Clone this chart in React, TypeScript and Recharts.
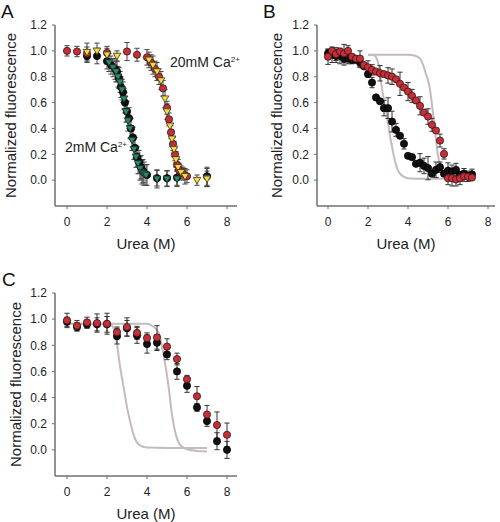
import React from 'react';
import {
  ComposedChart,
  Scatter,
  Line,
  XAxis,
  YAxis,
  ErrorBar,
} from 'recharts';

// ---- Panel A: 20 mM Ca2+ (red circles, yellow triangles), 2 mM Ca2+ (black circles, green triangles)
const aRedX = [0, 0.5, 1.0, 2.0, 3.0, 3.5, 4.0, 4.2, 4.4, 4.6, 4.8, 5.0, 5.1, 5.2, 5.3, 5.4, 5.5, 5.6, 5.8, 6.0];
const aRedY = [1.0, 0.995, 0.98, 0.985, 0.995, 0.97, 0.95, 0.91, 0.86, 0.8, 0.71, 0.56, 0.47, 0.37, 0.28, 0.2, 0.12, 0.08, 0.05, 0.03];
const aRedE = [0.04, 0.04, 0.05, 0.05, 0.07, 0.05, 0.06, 0.06, 0.06, 0.06, 0.06, 0.05, 0.05, 0.05, 0.05, 0.05, 0.05, 0.05, 0.05, 0.05];

const aYelX = [1.0, 1.5, 2.0, 2.5, 4.1, 4.3, 4.5, 4.7, 4.9, 5.0, 5.15, 5.25, 5.35, 5.45, 5.55, 5.7, 5.9, 6.5, 7.0];
const aYelY = [0.99, 1.0, 0.97, 0.96, 0.93, 0.89, 0.84, 0.77, 0.63, 0.53, 0.42, 0.32, 0.24, 0.16, 0.1, 0.06, 0.03, 0.0, 0.01];
const aYelE = [0.07, 0.06, 0.05, 0.04, 0.06, 0.07, 0.07, 0.07, 0.07, 0.06, 0.06, 0.06, 0.06, 0.06, 0.06, 0.05, 0.06, 0.04, 0.06];

const aBlkX = [1.0, 1.5, 2.0, 2.2, 2.4, 2.5, 2.6, 2.7, 2.8, 2.9, 3.0, 3.1, 3.2, 3.3, 3.4, 3.5, 3.6, 3.7, 3.8, 4.0, 4.5, 5.0, 5.5, 7.0];
const aBlkY = [0.96, 0.96, 0.92, 0.89, 0.86, 0.84, 0.79, 0.72, 0.68, 0.6, 0.53, 0.48, 0.4, 0.33, 0.25, 0.18, 0.14, 0.1, 0.07, 0.04, 0.015, 0.015, 0.02, 0.03];
const aBlkE = [0.05, 0.06, 0.06, 0.07, 0.08, 0.08, 0.08, 0.08, 0.08, 0.08, 0.08, 0.08, 0.08, 0.08, 0.08, 0.08, 0.09, 0.09, 0.09, 0.08, 0.06, 0.06, 0.06, 0.07];

const aGrnX = [2.1, 2.3, 2.45, 2.55, 2.65, 2.75, 2.85, 2.95, 3.05, 3.15, 3.25, 3.35, 3.45, 3.55, 3.65, 3.75, 3.85, 3.95, 4.5, 5.0, 5.5, 7.0];
const aGrnY = [0.91, 0.87, 0.84, 0.8, 0.76, 0.7, 0.63, 0.53, 0.46, 0.4, 0.31, 0.24, 0.18, 0.13, 0.09, 0.06, 0.05, 0.04, 0.01, 0.01, 0.01, 0.02];
const aGrnE = [0.07, 0.07, 0.08, 0.08, 0.08, 0.08, 0.08, 0.08, 0.08, 0.08, 0.08, 0.08, 0.08, 0.08, 0.09, 0.09, 0.09, 0.08, 0.07, 0.06, 0.06, 0.07];

// ---- Panel B: 0.2 M steps
const bX = [0, 0.2, 0.4, 0.6, 0.8, 1.0, 1.2, 1.4, 1.6, 1.8, 2.0, 2.2, 2.4, 2.6, 2.8, 3.0, 3.2, 3.4, 3.6, 3.8, 4.0, 4.2, 4.4, 4.6, 4.8, 5.0, 5.2, 5.4, 5.6, 5.8, 6.0, 6.2, 6.4, 6.6, 6.8, 7.0, 7.2];
const bBlkY = [0.98, 0.97, 0.96, 0.96, 0.94, 0.94, 0.93, 0.93, 0.91, 0.88, 0.82, 0.755, 0.64, 0.61, 0.557, 0.557, 0.453, 0.389, 0.343, 0.281, 0.188, 0.178, 0.126, 0.135, 0.11, 0.093, 0.05, 0.08, 0.1, 0.05, 0.074, 0.067, 0.08, 0.04, 0.05, 0.03, 0.045];
const bBlkE = [0.03, 0.06, 0.05, 0.06, 0.05, 0.04, 0.03, null, 0.04, null, 0.02, 0.04, null, null, 0.06, 0.08, 0.08, 0.05, null, 0.04, null, null, null, 0.07, 0.06, 0.09, null, 0.06, 0.04, null, 0.06, 0.05, 0.05, null, 0.04, 0.04, 0.04];
const bRedY = [0.955, 1.0, 0.975, 0.995, 0.98, 1.0, 0.955, 0.94, 0.94, 0.89, 0.873, 0.853, 0.84, 0.827, 0.82, 0.81, 0.8, 0.78, 0.745, 0.716, 0.685, 0.652, 0.616, 0.575, 0.523, 0.492, 0.428, 0.384, 0.306, 0.203, 0.015, 0.015, 0.005, 0.015, 0.03, 0.025, 0.02];
const bRedE = [0.06, null, 0.05, null, 0.07, 0.04, null, null, 0.06, null, 0.05, 0.04, null, 0.06, null, 0.06, 0.06, null, 0.09, null, 0.07, 0.05, null, 0.07, null, 0.06, 0.05, null, 0.05, 0.04, 0.05, 0.06, 0.05, 0.05, 0.04, null, null];

// fitted curves (grey)
const bFit1X = [2.0, 2.3, 2.4, 2.5, 2.6, 2.7, 2.8, 2.9, 3.0, 3.1, 3.2, 3.3, 3.4, 3.5, 3.6, 3.8, 4.1, 5.0, 7.0];
const bFit1Y = [0.97, 0.965, 0.95, 0.91, 0.83, 0.71, 0.62, 0.53, 0.44, 0.34, 0.26, 0.18, 0.12, 0.075, 0.05, 0.025, 0.013, 0.01, 0.01];
const bFit2X = [2.0, 4.0, 4.4, 4.6, 4.76, 4.9, 5.0, 5.1, 5.17, 5.29, 5.42, 5.5, 5.59, 5.7, 5.84, 6.0, 6.25, 7.0];
const bFit2Y = [0.97, 0.97, 0.96, 0.94, 0.89, 0.82, 0.775, 0.7, 0.62, 0.466, 0.286, 0.19, 0.13, 0.075, 0.04, 0.025, 0.018, 0.012];

// ---- Panel C: 0.5 M steps
const cX = [0, 0.5, 1.0, 1.5, 2.0, 2.5, 3.0, 3.5, 4.0, 4.5, 5.0, 5.5, 6.0, 6.5, 7.0, 7.5, 8.0];
const cRedY = [0.99, 0.95, 0.975, 0.97, 0.965, 0.9, 0.94, 0.895, 0.855, 0.86, 0.79, 0.695, 0.54, 0.41, 0.27, 0.19, 0.115];
const cRedE = [0.055, 0.04, 0.04, 0.07, 0.08, 0.04, 0.07, 0.05, 0.04, 0.09, 0.06, 0.045, 0.03, 0.075, 0.07, 0.1, 0.09];
const cBlkY = [0.98, 0.94, 0.96, 0.96, 0.96, 0.87, 0.93, 0.875, 0.81, 0.82, 0.73, 0.6, 0.49, 0.325, 0.22, 0.066, 0.0];
const cBlkE = [0.035, 0.03, 0.03, 0.05, 0.06, 0.06, 0.06, 0.06, 0.07, 0.06, 0.04, 0.06, 0.05, 0.03, 0.04, 0.065, 0.065];

const cFit1X = [0, 2.0, 2.2, 2.3, 2.4, 2.49, 2.57, 2.65, 2.82, 2.99, 3.15, 3.3, 3.48, 3.7, 4.0, 5.0, 7.0];
const cFit1Y = [0.965, 0.965, 0.955, 0.94, 0.9, 0.82, 0.73, 0.64, 0.49, 0.335, 0.22, 0.13, 0.06, 0.03, 0.018, 0.015, 0.015];
const cFit2X = [0, 4.0, 4.2, 4.39, 4.64, 4.81, 4.98, 5.14, 5.22, 5.35, 5.46, 5.6, 5.8, 6.0, 6.5, 7.0];
const cFit2Y = [0.965, 0.965, 0.955, 0.933, 0.87, 0.74, 0.59, 0.41, 0.3, 0.18, 0.107, 0.05, 0.02, 0.005, -0.008, -0.012];

const yTicks = [0, 0.2, 0.4, 0.6, 0.8, 1.0, 1.2];
const xTicks = [0, 2, 4, 6, 8];

const FONT = '"Liberation Sans", Arial, sans-serif';
const AXIS = '#6f6f6f';
const FIT = '#c6bbbb';

const rows = (xs: number[], ys: number[], es?: (number | null)[]) =>
  xs.map((x, i) => ({ x, y: ys[i], e: es ? es[i] : null }));

const dot = (fill: string, stroke: string) => (p: any) =>
  <circle cx={p.cx} cy={p.cy} r={3.6} fill={fill} stroke={stroke} strokeWidth={0.8} />;

const tri = (fill: string, stroke: string) => (p: any) => (
  <path
    d={`M${p.cx - 3.8},${p.cy - 2.8}L${p.cx + 3.8},${p.cy - 2.8}L${p.cx},${p.cy + 3.8}Z`}
    fill={fill}
    stroke={stroke}
    strokeWidth={0.8}
  />
);

interface PanelProps {
  width: number;
  height: number;
  top: number;
  right: number;
  yWidth: number;
  xHeight: number;
  xDomain: [number, number];
  labelOffset: number;
  yLabelOffset: number;
  children: React.ReactNode;
}

const Panel = ({ width, height, top, right, yWidth, xHeight, xDomain, labelOffset, yLabelOffset, children }: PanelProps) => (
  <ComposedChart width={width} height={height} margin={{ top, right, left: 0, bottom: 0 }}>
    <XAxis
      type="number"
      dataKey="x"
      domain={xDomain}
      allowDataOverflow
      ticks={xTicks}
      height={xHeight}
      tickSize={3}
      tickMargin={8}
      axisLine={{ stroke: AXIS, strokeWidth: 1.5 }}
      tickLine={{ stroke: AXIS }}
      tick={{ fill: '#222', fontSize: 12, fontFamily: FONT }}
      label={{ value: 'Urea (M)', position: 'insideBottom', offset: labelOffset, fill: '#222', fontSize: 15, fontFamily: FONT }}
    />
    <XAxis xAxisId="top" orientation="top" type="number" domain={xDomain} allowDataOverflow height={0}
      tick={false} tickLine={false} axisLine={{ stroke: AXIS, strokeWidth: 1.5 }} />
    <YAxis
      type="number"
      dataKey="y"
      domain={[-0.2, 1.2]}
      allowDataOverflow
      ticks={yTicks}
      tickFormatter={(v: number) => v.toFixed(1)}
      width={yWidth}
      tickSize={3}
      tickMargin={5}
      axisLine={{ stroke: AXIS, strokeWidth: 1.5 }}
      tickLine={{ stroke: AXIS }}
      tick={{ fill: '#222', fontSize: 12, fontFamily: FONT }}
      label={{
        value: 'Normalized fluorescence',
        angle: -90,
        position: 'insideLeft',
        offset: yLabelOffset,
        fill: '#222',
        fontSize: 15,
        fontFamily: FONT,
        style: { textAnchor: 'middle' },
      }}
    />
    <YAxis yAxisId="right" orientation="right" type="number" domain={[-0.2, 1.2]} allowDataOverflow width={0}
      tick={false} tickLine={false} axisLine={{ stroke: AXIS, strokeWidth: 1.5 }} />
    {children}
  </ComposedChart>
);

const bar = (color = '#333') => <ErrorBar dataKey="e" direction="y" width={2.6} stroke={color} strokeWidth={1} />;

const fitLine = (xs: number[], ys: number[]) => (
  <Line data={rows(xs, ys)} dataKey="y" type="monotone" stroke={FIT} strokeWidth={2} dot={false}
    activeDot={false} isAnimationActive={false} />
);

const letter = (t: string, left: number, top: number) => (
  <div style={{ position: 'absolute', left, top, fontSize: 19, fontFamily: FONT, lineHeight: '19px', color: '#111' }}>{t}</div>
);

export default function App() {
  return (
    <div style={{ position: 'absolute', left: 0, top: 0, width: 500, height: 522, background: '#fff' }}>
      <div style={{ position: 'absolute', left: 0, top: 0 }}>
        <Panel width={245} height={262} top={25} right={8} yWidth={55} xHeight={56} xDomain={[-0.6, 8.5]}
          labelOffset={13} yLabelOffset={11}>
          <Scatter data={rows(aBlkX, aBlkY, aBlkE)} shape={dot('#111', '#000')} isAnimationActive={false}>{bar('#444')}</Scatter>
          <Scatter data={rows(aGrnX, aGrnY, aGrnE)} shape={tri('#2e8a5c', '#123')} isAnimationActive={false}>{bar('#444')}</Scatter>
          <Scatter data={rows(aRedX, aRedY, aRedE)} shape={dot('#c4303a', '#3a1212')} isAnimationActive={false}>{bar('#444')}</Scatter>
          <Scatter data={rows(aYelX, aYelY, aYelE)} shape={tri('#f0dc4a', '#3a3010')} isAnimationActive={false}>{bar('#444')}</Scatter>
        </Panel>
      </div>
      <div style={{ position: 'absolute', left: 250, top: 0 }}>
        <Panel width={250} height={262} top={25} right={5} yWidth={67} xHeight={56} xDomain={[-0.55, 8.35]}
          labelOffset={13} yLabelOffset={27}>
          {fitLine(bFit1X, bFit1Y)}
          {fitLine(bFit2X, bFit2Y)}
          <Scatter data={rows(bX, bBlkY, bBlkE)} shape={dot('#111', '#000')} isAnimationActive={false}>{bar()}</Scatter>
          <Scatter data={rows(bX, bRedY, bRedE)} shape={dot('#c4303a', '#3a1212')} isAnimationActive={false}>{bar()}</Scatter>
        </Panel>
      </div>
      <div style={{ position: 'absolute', left: 0, top: 262 }}>
        <Panel width={250} height={260} top={31} right={13} yWidth={55} xHeight={46} xDomain={[-0.6, 8.5]}
          labelOffset={3} yLabelOffset={16}>
          {fitLine(cFit1X, cFit1Y)}
          {fitLine(cFit2X, cFit2Y)}
          <Scatter data={rows(cX, cBlkY, cBlkE)} shape={dot('#111', '#000')} isAnimationActive={false}>{bar()}</Scatter>
          <Scatter data={rows(cX, cRedY, cRedE)} shape={dot('#c4303a', '#3a1212')} isAnimationActive={false}>{bar()}</Scatter>
        </Panel>
      </div>
      {letter('A', 1, 2)}
      {letter('B', 263, 2)}
      {letter('C', 2, 270)}
      <div style={{ position: 'absolute', left: 170, top: 55, fontSize: 14, lineHeight: '14px', fontFamily: FONT, color: '#222' }}>
        20mM Ca<span style={{ fontSize: 8, position: 'relative', top: -5 }}>2+</span>
      </div>
      <div style={{ position: 'absolute', left: 65, top: 140, fontSize: 14, lineHeight: '14px', fontFamily: FONT, color: '#222' }}>
        2mM Ca<span style={{ fontSize: 8, position: 'relative', top: -5 }}>2+</span>
      </div>
    </div>
  );
}
